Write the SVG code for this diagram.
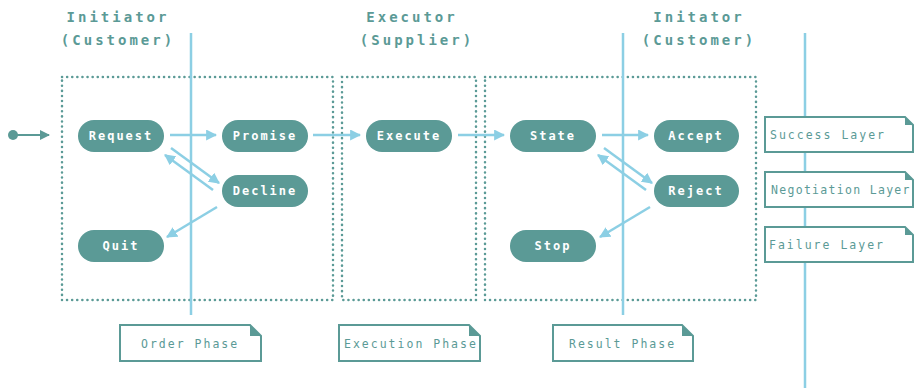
<svg xmlns="http://www.w3.org/2000/svg" width="915" height="388" viewBox="0 0 915 388">
<style>
.hdr{font-family:"DejaVu Sans Mono","Liberation Mono",monospace;font-weight:bold;font-size:14px;fill:#5b9a96;letter-spacing:3px;text-anchor:middle}
.node rect{fill:#5b9a96}
.node text{font-family:"DejaVu Sans Mono","Liberation Mono",monospace;font-weight:bold;font-size:12px;fill:#ffffff;letter-spacing:2px;text-anchor:middle;dominant-baseline:central}
.grp{fill:none;stroke:#5b9a96;stroke-width:2.5;stroke-dasharray:0.1 5;stroke-linecap:round}
.lane{stroke:#8ccfe4;stroke-width:2.5}
.conn{stroke:#8ccfe4;stroke-width:2.5;fill:none}
.note path.b{fill:#ffffff;stroke:#5b9a96;stroke-width:2}
.note path.f{fill:#5b9a96}
.note text{font-family:"DejaVu Sans Mono","Liberation Mono",monospace;font-size:11.5px;fill:#5b9a96;letter-spacing:2px;dominant-baseline:central}
</style>
<defs>
<marker id="ah" viewBox="0 0 10 10" refX="9" refY="5" markerWidth="4.4" markerHeight="4.4" orient="auto" markerUnits="strokeWidth">
<path d="M0,0 L10,5 L0,10 Z" fill="#8ccfe4"/>
</marker>
<marker id="ahs" viewBox="0 0 10 10" refX="9" refY="5" markerWidth="5" markerHeight="5" orient="auto" markerUnits="strokeWidth">
<path d="M0,0 L10,5 L0,10 Z" fill="#5b9a96"/>
</marker>
</defs>

<g id="headers">
<text class="hdr" x="118" y="22">Initiator</text>
<text class="hdr" x="118" y="45">(Customer)</text>
<text class="hdr" x="412" y="22">Executor</text>
<text class="hdr" x="417" y="45">(Supplier)</text>
<text class="hdr" x="699" y="22">Initator</text>
<text class="hdr" x="699" y="45">(Customer)</text>
</g>

<g id="groups">
<rect class="grp" x="62" y="77" width="271" height="223"/>
<rect class="grp" x="342" y="77" width="134" height="223"/>
<rect class="grp" x="485" y="77" width="271" height="223"/>
</g>

<g id="lanes">
<line class="lane" x1="191" y1="33" x2="191" y2="315"/>
<line class="lane" x1="623" y1="33" x2="623" y2="315"/>
<line class="lane" x1="805" y1="33" x2="805" y2="388"/>
</g>

<g id="connectors">
<circle cx="13" cy="135" r="5" fill="#5b9a96"/>
<line x1="16" y1="135" x2="49" y2="135" stroke="#5b9a96" stroke-width="2" marker-end="url(#ahs)"/>
<line class="conn" x1="170" y1="135" x2="216" y2="135" marker-end="url(#ah)"/>
<line class="conn" x1="313" y1="135" x2="360" y2="135" marker-end="url(#ah)"/>
<line class="conn" x1="458" y1="135" x2="504" y2="135" marker-end="url(#ah)"/>
<line class="conn" x1="602" y1="135" x2="648" y2="135" marker-end="url(#ah)"/>
<line class="conn" x1="171" y1="148" x2="219" y2="183" marker-end="url(#ah)"/>
<line class="conn" x1="213" y1="190" x2="165" y2="155" marker-end="url(#ah)"/>
<line class="conn" x1="217" y1="207" x2="167" y2="237" marker-end="url(#ah)"/>
<line class="conn" x1="604" y1="148" x2="652" y2="183" marker-end="url(#ah)"/>
<line class="conn" x1="646" y1="190" x2="598" y2="155" marker-end="url(#ah)"/>
<line class="conn" x1="650" y1="207" x2="600" y2="237" marker-end="url(#ah)"/>
</g>

<g id="n-request" class="node"><rect x="78" y="120" width="86" height="32" rx="16"/><text x="121" y="136">Request</text></g>
<g id="n-promise" class="node"><rect x="222" y="120" width="86" height="32" rx="16"/><text x="265" y="136">Promise</text></g>
<g id="n-decline" class="node"><rect x="222" y="175" width="86" height="32" rx="16"/><text x="265" y="191">Decline</text></g>
<g id="n-quit" class="node"><rect x="78" y="230" width="86" height="32" rx="16"/><text x="121" y="246">Quit</text></g>
<g id="n-execute" class="node"><rect x="366" y="120" width="86" height="32" rx="16"/><text x="409" y="136">Execute</text></g>
<g id="n-state" class="node"><rect x="510" y="120" width="86" height="32" rx="16"/><text x="553" y="136">State</text></g>
<g id="n-stop" class="node"><rect x="510" y="230" width="86" height="32" rx="16"/><text x="553" y="246">Stop</text></g>
<g id="n-accept" class="node"><rect x="654" y="120" width="85" height="32" rx="16"/><text x="696" y="136">Accept</text></g>
<g id="n-reject" class="node"><rect x="654" y="175" width="85" height="32" rx="16"/><text x="696" y="191">Reject</text></g>

<g id="note-success" class="note">
<path class="b" d="M765,117 H905 L913,125 V152 H765 Z"/><path class="f" d="M905,117 L913,125 H905 Z"/>
<text x="770" y="135">Success Layer</text>
</g>
<g id="note-negotiation" class="note">
<path class="b" d="M765,172 H905 L913,180 V207 H765 Z"/><path class="f" d="M905,172 L913,180 H905 Z"/>
<text x="771" y="190" style="letter-spacing:1.3px">Negotiation Layer</text>
</g>
<g id="note-failure" class="note">
<path class="b" d="M765,227 H905 L913,235 V262 H765 Z"/><path class="f" d="M905,227 L913,235 H905 Z"/>
<text x="769" y="245">Failure Layer</text>
</g>

<g id="note-order" class="note">
<path class="b" d="M120,325 H250 L261,336 V361 H120 Z"/><path class="f" d="M250,325 L261,336 H250 Z"/>
<text x="141" y="344">Order Phase</text>
</g>
<g id="note-execution" class="note">
<path class="b" d="M339,325 H469 L480,336 V361 H339 Z"/><path class="f" d="M469,325 L480,336 H469 Z"/>
<text x="344" y="344">Execution Phase</text>
</g>
<g id="note-result" class="note">
<path class="b" d="M553,325 H682 L693,336 V361 H553 Z"/><path class="f" d="M682,325 L693,336 H682 Z"/>
<text x="569" y="344">Result Phase</text>
</g>
</svg>
